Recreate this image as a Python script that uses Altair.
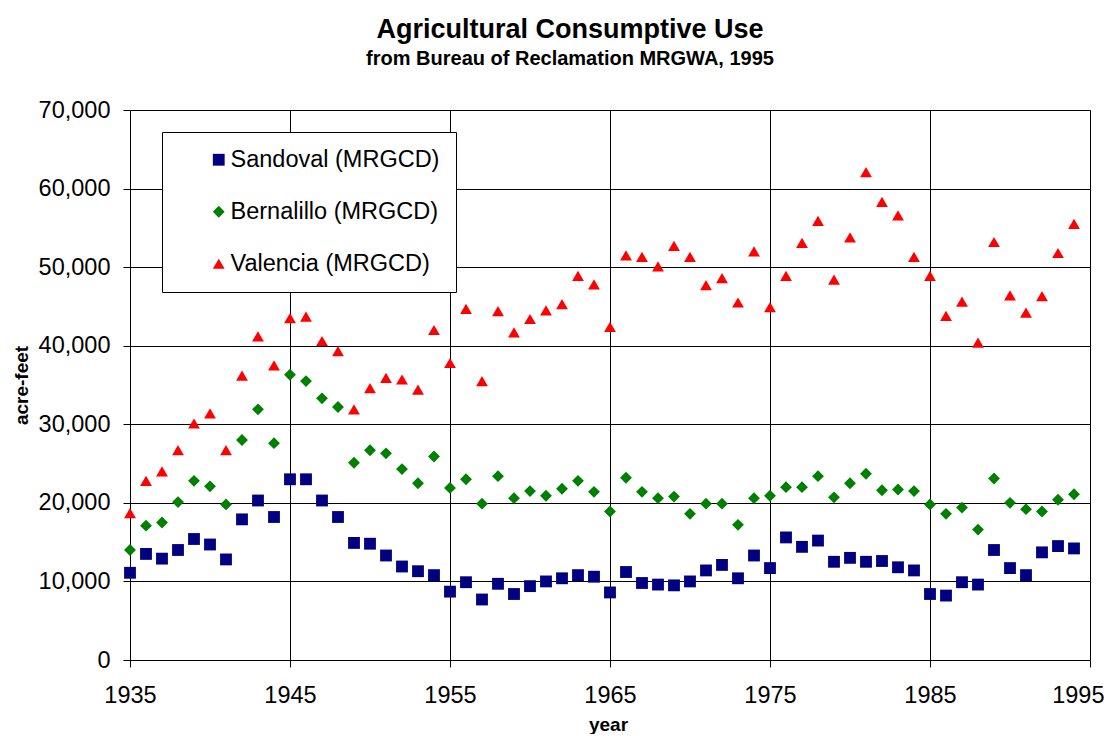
import altair as alt
import pandas as pd

years = list(range(1935, 1995))

sandoval = [11100, 13500, 12900, 14000, 15400, 14700, 12800, 17900, 20300, 18200,
            23000, 23000, 20300, 18200, 14900, 14800, 13300, 11900, 11300, 10800,
            8700, 9900, 7700, 9700, 8400, 9400, 10000, 10400, 10800, 10600,
            8600, 11200, 9800, 9600, 9500, 10000, 11400, 12100, 10400, 13300,
            11700, 15600, 14400, 15200, 12500, 13000, 12500, 12600, 11800, 11400,
            8400, 8200, 9900, 9600, 14000, 11700, 10800, 13700, 14500, 14200]

bernalillo = [14000, 17100, 17500, 20100, 22800, 22100, 19800, 28000, 31900, 27600,
              36300, 35500, 33300, 32200, 25100, 26700, 26300, 24300, 22500, 25900,
              21900, 23000, 19900, 23400, 20600, 21500, 20900, 21800, 22800, 21400,
              18900, 23200, 21400, 20600, 20800, 18600, 19900, 19900, 17200, 20600,
              20900, 22000, 22000, 23400, 20700, 22500, 23700, 21600, 21700, 21500,
              19800, 18600, 19400, 16600, 23100, 20000, 19200, 18900, 20400, 21100]

valencia = [18700, 22800, 24000, 26700, 30100, 31400, 26700, 36200, 41200, 37500,
            43500, 43700, 40600, 39300, 31900, 34600, 35900, 35700, 34400, 42000,
            37800, 44700, 35500, 44400, 41700, 43400, 44500, 45300, 48900, 47800,
            42400, 51500, 51300, 50100, 52700, 51300, 47700, 48600, 45500, 52000,
            44900, 48900, 53100, 55900, 48400, 53800, 62100, 58300, 56600, 51300,
            48900, 43800, 45600, 40400, 53200, 46400, 44200, 46300, 51800, 55500]

series_names = ["Sandoval (MRGCD)", "Bernalillo (MRGCD)", "Valencia (MRGCD)"]
series_colors = ["#000080", "#008000", "#FF0000"]
series_shapes = ["square", "diamond", "triangle-up"]
series_sizes = [140, 140, 170]

x_ticks = [1935, 1945, 1955, 1965, 1975, 1985, 1995]
y_ticks = [0, 10000, 20000, 30000, 40000, 50000, 60000, 70000]

rows = []
for name, vals in zip(series_names, [sandoval, bernalillo, valencia]):
    for yr, v in zip(years, vals):
        rows.append({"year": yr, "value": v, "series": name})
df = pd.DataFrame(rows)

FONT = "Liberation Sans, Arial, sans-serif"
LBL = 23.5

legend = alt.Legend(
    title=None,
    orient="none",
    legendX=32,
    legendY=22,
    fillColor="white",
    strokeColor="black",
    padding=16,
    rowPadding=27,
    labelFont=FONT,
    labelFontSize=LBL,
    labelColor="black",
    labelBaseline="middle",
    labelLimit=500,
    labelOffset=0,
    symbolOffset=29,
    symbolSize=135,
    symbolStrokeWidth=0,
)

chart = alt.Chart(df).mark_point(filled=True, opacity=1).encode(
    x=alt.X(
        "year:Q",
        scale=alt.Scale(domain=[1935, 1995], nice=False, zero=False),
        axis=alt.Axis(
            values=x_ticks, format="d", title="year",
            labelFont=FONT, labelFontSize=LBL, labelColor="black", labelPadding=16,
            labelFlush=False,
            labelAlign={"condition": {"test": "datum.value == 1995", "value": "right"}, "value": "center"},
            labelOffset={"condition": {"test": "datum.value == 1995", "value": 14}, "value": 0},
            tickSize=7, tickColor="black", domain=False,
            grid=True, gridColor="black", gridOpacity=1, gridWidth=1,
            titleFont=FONT, titleFontSize=19, titleFontWeight="bold", titleColor="black",
            titleX=478, titleY=70, titleBaseline="alphabetic",
        ),
    ),
    y=alt.Y(
        "value:Q",
        scale=alt.Scale(domain=[0, 70000], nice=False),
        axis=alt.Axis(
            values=y_ticks, format=",.0f", title="acre-feet",
            labelFont=FONT, labelFontSize=LBL, labelColor="black", labelPadding=13,
            labelFlush=False,
            tickSize=7, tickColor="black", domain=False,
            grid=True, gridColor="black", gridOpacity=1, gridWidth=1,
            titleFont=FONT, titleFontSize=19, titleFontWeight="bold", titleColor="black",
            titleX=-103, titleY=275, titleBaseline="alphabetic", titleAngle=270,
            titleAlign="center",
        ),
    ),
    color=alt.Color("series:N", scale=alt.Scale(domain=series_names, range=series_colors), legend=legend),
    shape=alt.Shape("series:N", scale=alt.Scale(domain=series_names, range=series_shapes), legend=legend),
    size=alt.Size("series:N", scale=alt.Scale(domain=series_names, range=series_sizes), legend=None),
).properties(
    width=960,
    height=550,
    padding={"left": 122, "top": 102, "right": 14, "bottom": 74},
    autosize=alt.AutoSizeParams(type="none"),
    title=alt.TitleParams(
        text="Agricultural Consumptive Use",
        subtitle="from Bureau of Reclamation MRGWA, 1995",
        font=FONT, fontSize=27, fontWeight="bold", color="black",
        subtitleFont=FONT, subtitleFontSize=20, subtitleFontWeight="bold", subtitleColor="black",
        subtitlePadding=5,
        anchor="middle", dx=-40, offset=28,
    ),
).configure_view(
    stroke="black", strokeWidth=1.5
).configure(background="white")

chart.save("out.html", embed_options={"renderer": "svg", "actions": False})
